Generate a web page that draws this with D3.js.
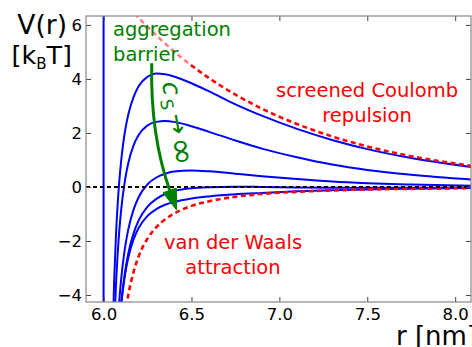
<!DOCTYPE html>
<html>
<head>
<meta charset="utf-8">
<script src="https://cdnjs.cloudflare.com/ajax/libs/d3/7.8.5/d3.min.js"></script>
<style>
body { margin: 0; background: #fff; }
svg { display: block; font-family: "DejaVu Sans", sans-serif; }
</style>
</head>
<body>
<div id="chart"></div>
<script>
// distances r [nm] shared by every curve
var rGrid = [6.05, 6.06, 6.07, 6.08, 6.09, 6.10, 6.12, 6.14, 6.17, 6.20, 6.25, 6.30,
             6.35, 6.40, 6.50, 6.60, 6.75, 6.90, 7.10, 7.30, 7.50, 7.75, 8.10];

// total potential V(r) [kBT], lowest salt first
var blue1 = [-5.86, -3.50, -1.86, -0.65, 0.26, 0.97, 1.99, 2.67, 3.32, 3.74, 4.08, 4.20,
             4.17, 4.09, 3.84, 3.54, 3.06, 2.64, 2.15, 1.74, 1.40, 1.07, 0.73];
var blue2 = [-7.70, -5.34, -3.70, -2.49, -1.57, -0.85, 0.18, 0.87, 1.53, 1.93, 2.28, 2.41,
             2.44, 2.41, 2.25, 2.04, 1.72, 1.42, 1.10, 0.83, 0.63, 0.45, 0.27];
var blue3 = [-10.41, -8.02, -6.34, -5.10, -4.16, -3.41, -2.33, -1.59, -0.85, -0.37, 0.10, 0.35,
             0.49, 0.57, 0.61, 0.58, 0.49, 0.40, 0.29, 0.20, 0.14, 0.09, 0.04];
var blue4 = [-11.35, -8.96, -7.27, -6.03, -5.08, -4.33, -3.24, -2.48, -1.73, -1.23, -0.73, -0.44,
             -0.26, -0.15, -0.05, -0.01, 0.01, 0.00, -0.02, -0.03, -0.03, -0.03, -0.03];
var blue5 = [-11.16, -8.82, -7.18, -5.98, -5.07, -4.36, -3.33, -2.63, -1.95, -1.51, -1.07, -0.82,
             -0.66, -0.56, -0.43, -0.35, -0.27, -0.22, -0.16, -0.12, -0.09, -0.07, -0.04];

// the two limits (red dashed)
var coulomb = [7.38, 7.30, 7.22, 7.14, 7.07, 6.99, 6.84, 6.69, 6.47, 6.26, 5.93, 5.61,
               5.31, 5.02, 4.50, 4.03, 3.42, 2.90, 2.33, 1.87, 1.50, 1.14, 0.77];
var vdw = [-13.24, -10.81, -9.08, -7.80, -6.80, -6.02, -4.84, -4.02, -3.16, -2.56, -1.91, -1.49,
           -1.20, -0.99, -0.70, -0.53, -0.36, -0.26, -0.18, -0.13, -0.09, -0.07, -0.04];

var hardCore = 6.0;
var xTicks = [6.0, 6.5, 7.0, 7.5, 8.0];
var yTicks = [-4, -2, 0, 2, 4, 6];

// arrow "c_S -> inf" : start, control, tip in data units
var arrowPts = [[6.274, 4.58], [6.264, 1.92], [6.416, -0.86]];

var W = 472, H = 347;
var padL = 86, padR = 471, padT = 16, padB = 302;

var x = d3.scaleLinear().domain([5.9, 8.09]).range([padL, padR]);
var y = d3.scaleLinear().domain([-4.26, 6.33]).range([padB, padT]);

var svg = d3.select("#chart").append("svg")
    .attr("width", W)
    .attr("height", H);

svg.append("clipPath").attr("id", "plot-clip")
    .append("rect")
    .attr("x", padL).attr("y", padT)
    .attr("width", padR - padL).attr("height", padB - padT);

var plot = svg.append("g").attr("clip-path", "url(#plot-clip)");

function seriesOf(vals) {
    return rGrid.map(function(r, i) { return [r, vals[i]]; });
}

var line = d3.line()
    .x(function(d) { return x(d[0]); })
    .y(function(d) { return y(d[1]); })
    .curve(d3.curveMonotoneX);

// hard core wall
plot.append("line")
    .attr("x1", x(hardCore)).attr("x2", x(hardCore))
    .attr("y1", y(-4.26)).attr("y2", y(6.33))
    .attr("stroke", "#0000ff")
    .attr("stroke-width", 2);

[blue1, blue2, blue3, blue4, blue5].forEach(function(vals) {
    plot.append("path")
        .attr("d", line(seriesOf(vals)))
        .attr("fill", "none")
        .attr("stroke", "#0000ff")
        .attr("stroke-width", 2);
});

[coulomb, vdw].forEach(function(vals) {
    plot.append("path")
        .attr("d", line(seriesOf(vals)))
        .attr("fill", "none")
        .attr("stroke", "#ff0000")
        .attr("stroke-width", 2.6)
        .attr("stroke-dasharray", "5,3.5");
});

// zero line
plot.append("line")
    .attr("x1", padL).attr("x2", padR)
    .attr("y1", y(0)).attr("y2", y(0))
    .attr("stroke", "#000")
    .attr("stroke-width", 2)
    .attr("stroke-dasharray", "4,3");

// half transparent box behind the green label
plot.append("rect")
    .attr("x", 110).attr("y", 14)
    .attr("width", 127).attr("height", 50)
    .attr("fill", "#fff")
    .attr("opacity", 0.5);

var green = "#008000";
svg.append("text").attr("x", 113).attr("y", 36)
    .attr("fill", green).attr("font-size", 19.5).text("aggregation");
svg.append("text").attr("x", 113).attr("y", 61)
    .attr("fill", green).attr("font-size", 19.5).text("barrier");

svg.append("text").attr("x", 367).attr("y", 97)
    .attr("text-anchor", "middle")
    .attr("fill", "#ff0000").attr("font-size", 19.5).text("screened Coulomb");
svg.append("text").attr("x", 367).attr("y", 122)
    .attr("text-anchor", "middle")
    .attr("fill", "#ff0000").attr("font-size", 19.5).text("repulsion");

svg.append("text").attr("x", 233).attr("y", 249)
    .attr("text-anchor", "middle")
    .attr("fill", "#ff0000").attr("font-size", 19.5).text("van der Waals");
svg.append("text").attr("x", 233).attr("y", 274)
    .attr("text-anchor", "middle")
    .attr("fill", "#ff0000").attr("font-size", 19.5).text("attraction");

// green arrow (quadratic curve + filled head)
var p0 = [x(arrowPts[0][0]), y(arrowPts[0][1])];
var pc = [x(arrowPts[1][0]), y(arrowPts[1][1])];
var p2 = [x(arrowPts[2][0]), y(arrowPts[2][1])];
var dx = p2[0] - pc[0], dy = p2[1] - pc[1];
var len = Math.sqrt(dx * dx + dy * dy);
var ux = dx / len, uy = dy / len;
var headL = 21, headW = 7;
var bx = p2[0] - ux * headL, by = p2[1] - uy * headL;

var ap = d3.path();
ap.moveTo(p0[0], p0[1]);
ap.quadraticCurveTo(pc[0], pc[1], bx + ux * 2, by + uy * 2);
svg.append("path")
    .attr("d", ap.toString())
    .attr("fill", "none")
    .attr("stroke", green)
    .attr("stroke-width", 3);

svg.append("path")
    .attr("d", "M" + p2[0] + "," + p2[1] +
               "L" + (bx - uy * headW) + "," + (by + ux * headW) +
               "L" + (bx + uy * headW) + "," + (by - ux * headW) + "Z")
    .attr("fill", green)
    .attr("stroke", green)
    .attr("stroke-width", 1);

// rotated c_S -> infinity label
var cs = svg.append("text")
    .attr("transform", "translate(162,83) rotate(80)")
    .attr("fill", green)
    .attr("font-size", 25);
cs.append("tspan").attr("font-style", "italic").text("c");
cs.append("tspan").attr("font-size", 17).attr("dy", 5).attr("dx", 3).text("S");
cs.append("tspan").attr("dy", -5).attr("dx", 5).text("\u2192");
cs.append("tspan").attr("font-size", 34).attr("dy", 3).attr("dx", 3).text("\u221e");

// axes, ticks inside on all four sides
var tickCol = "#444";

var xAxis = svg.append("g")
    .attr("transform", "translate(0," + padB + ")")
    .call(d3.axisBottom(x).tickValues(xTicks).tickSize(-5).tickPadding(6)
        .tickFormat(d3.format(".1f")));
var xTop = svg.append("g")
    .attr("transform", "translate(0," + padT + ")")
    .call(d3.axisTop(x).tickValues(xTicks).tickSize(-5).tickFormat(""));
var yAxis = svg.append("g")
    .attr("transform", "translate(" + padL + ",0)")
    .call(d3.axisLeft(y).tickValues(yTicks).tickSize(-5).tickPadding(4)
        .tickFormat(function(d) { return d < 0 ? "\u2212" + Math.abs(d) : d; }));
var yRight = svg.append("g")
    .attr("transform", "translate(" + padR + ",0)")
    .call(d3.axisRight(y).tickValues(yTicks).tickSize(-5).tickFormat(""));

[xAxis, xTop, yAxis, yRight].forEach(function(g) {
    g.select(".domain").remove();
    g.selectAll(".tick line").attr("stroke", tickCol);
    g.selectAll(".tick text")
        .attr("fill", "#000")
        .attr("font-size", 16.5)
        .attr("font-family", "DejaVu Sans, sans-serif");
});

svg.append("rect")
    .attr("x", padL).attr("y", padT)
    .attr("width", padR - padL).attr("height", padB - padT)
    .attr("fill", "none")
    .attr("stroke", "#888")
    .attr("stroke-width", 1.2);

// axis titles
svg.append("text").attr("x", 67).attr("y", 34)
    .attr("text-anchor", "end").attr("font-size", 26.5).text("V(r)");
var kt = svg.append("text").attr("x", 72).attr("y", 64)
    .attr("text-anchor", "end").attr("font-size", 25.5);
kt.append("tspan").text("[k");
kt.append("tspan").attr("font-size", 15).attr("dy", 5).text("B");
kt.append("tspan").attr("dy", -5).text("T]");

svg.append("text").attr("x", 477).attr("y", 345)
    .attr("text-anchor", "end").attr("font-size", 26).text("r [nm]");
</script>
</body>
</html>
